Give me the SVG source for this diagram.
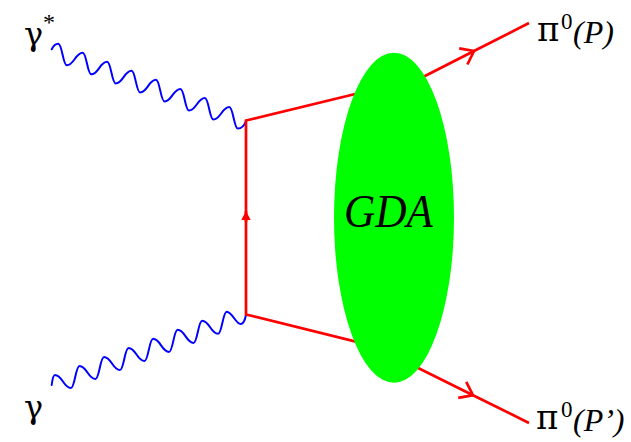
<svg xmlns="http://www.w3.org/2000/svg" width="631" height="442" viewBox="0 0 631 442">
  <style>
    .photon { fill: none; stroke: #0000ff; stroke-width: 2; stroke-linejoin: round; stroke-linecap: round; }
    .fermion { fill: none; stroke: #ff0000; stroke-width: 2.7; stroke-linejoin: miter; }
    .lbl { font-family: "Liberation Serif", "Times New Roman", serif; fill: #000; }
    .gr { font-family: "DejaVu Serif", "Liberation Serif", serif; fill: #000; }
    .it { font-style: italic; }
  </style>
  <defs>
    <marker id="chev" markerUnits="userSpaceOnUse" markerWidth="30" markerHeight="30" refX="0" refY="0" orient="auto" overflow="visible">
      <path d="M-12,-9 L0,0 L-12,9" fill="none" stroke="#ff0000" stroke-width="2.7" stroke-linejoin="miter"/>
    </marker>
    <marker id="tri" markerUnits="userSpaceOnUse" markerWidth="20" markerHeight="20" refX="0" refY="0" orient="auto" overflow="visible">
      <path d="M0,0 L-9,-4.7 L-9,4.7 Z" fill="#ff0000"/>
    </marker>
  </defs>
  <rect width="631" height="442" fill="#ffffff"/>

  <g id="connectors">
    <path id="photon-gstar" class="photon" d="M51.7,49.3 C53,46.5 55.5,43.7 58.3,43.7
      c3.8,0 4.7,21.6 8.5,21.6 c7.2,0 8.73,-12.56 15.93,-12.56
      c3.8,0 4.7,21.6 8.5,21.6 c7.2,0 8.73,-12.56 15.93,-12.56
      c3.8,0 4.7,21.6 8.5,21.6 c7.2,0 8.73,-12.56 15.93,-12.56
      c3.8,0 4.7,21.6 8.5,21.6 c7.2,0 8.73,-12.56 15.93,-12.56
      c3.8,0 4.7,21.6 8.5,21.6 c7.2,0 8.73,-12.56 15.93,-12.56
      c3.8,0 4.7,21.6 8.5,21.6 c7.2,0 8.73,-12.56 15.93,-12.56
      c3.8,0 4.7,21.6 8.5,21.6 c7.2,0 8.73,-12.56 15.93,-12.56
      c3.8,0 4.7,21.6 8.5,21.6 C241.5,128.6 244.5,125 246,121"/>
    <path id="photon-g" class="photon" d="M51.7,385 C52.3,380 53.4,375 55,375
      c7.2,0 8.7,13.1 15.9,13.1 c3.9,0 4.73,-22.14 8.63,-22.14
      c7.2,0 8.7,13.1 15.9,13.1 c3.9,0 4.73,-22.14 8.63,-22.14
      c7.2,0 8.7,13.1 15.9,13.1 c3.9,0 4.73,-22.14 8.63,-22.14
      c7.2,0 8.7,13.1 15.9,13.1 c3.9,0 4.73,-22.14 8.63,-22.14
      c7.2,0 8.7,13.1 15.9,13.1 c3.9,0 4.73,-22.14 8.63,-22.14
      c7.2,0 8.7,13.1 15.9,13.1 c3.9,0 4.73,-22.14 8.63,-22.14
      c7.2,0 8.7,13.1 15.9,13.1 c3.9,0 4.73,-22.14 8.63,-22.14
      C232,311.7 236,324 240.5,324 C243,324 245,320 246,315"/>
    <path id="quark-loop" class="fermion" d="M380,88 L246,120.5 L246,314.5 L380,347.6"/>
    <path id="quark-arrow" class="fermion" d="M246,222 L246,211" marker-end="url(#tri)"/>
    <path id="pion-line-1" class="fermion" d="M400,88.8 L474,51 L529,23" marker-mid="url(#chev)"/>
    <path id="pion-line-2" class="fermion" d="M400,359 L473,395.2 L529,423" marker-mid="url(#chev)"/>
  </g>

  <g id="gda">
    <ellipse cx="394" cy="217.7" rx="60" ry="165" fill="#00ff00"/>
    <text class="lbl it" x="344" y="226.7" font-size="46" textLength="89" lengthAdjust="spacingAndGlyphs">GDA</text>
  </g>

  <g id="label-gamma-star">
    <text class="gr" x="24" y="45" font-size="32">γ</text>
    <text class="lbl" x="43" y="29.5" font-size="24">*</text>
  </g>

  <g id="label-gamma">
    <text class="gr" x="24" y="418.3" font-size="32">γ</text>
  </g>

  <g id="label-pion-1">
    <text class="gr" x="537" y="41" font-size="34">π<tspan class="lbl" x="561" y="29" font-size="23">0</tspan><tspan class="lbl it" x="573" y="42.7" font-size="32">(P)</tspan></text>
  </g>

  <g id="label-pion-2">
    <text class="gr" x="536" y="429.3" font-size="34">π<tspan class="lbl" x="561" y="416.7" font-size="23">0</tspan><tspan class="lbl it" x="573" y="430.7" font-size="32">(P’)</tspan></text>
  </g>
</svg>
